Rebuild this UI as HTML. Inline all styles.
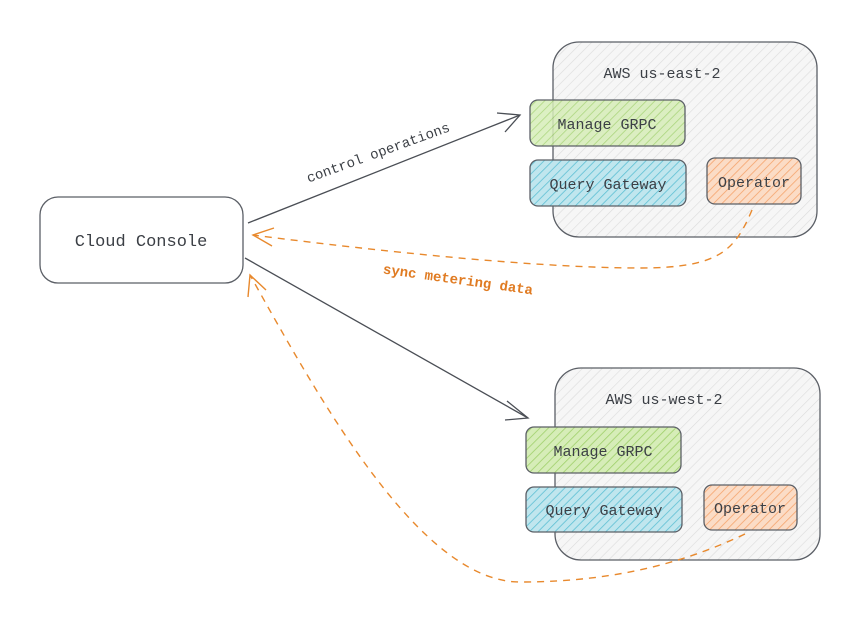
<!DOCTYPE html>
<html><head><meta charset="utf-8"><style>
html,body{margin:0;padding:0;background:#fff;}
text{font-family:"Liberation Mono",monospace;}
</style></head><body>
<svg width="861" height="624" viewBox="0 0 861 624" xmlns="http://www.w3.org/2000/svg">
<defs>
<pattern id="hg" width="7" height="7" patternUnits="userSpaceOnUse" patternTransform="rotate(45)"><rect width="7" height="7" fill="#f6f6f6"/><line x1="0" y1="0" x2="0" y2="7" stroke="#dcdcdc" stroke-width="1.2"/></pattern>
<pattern id="hgr" width="6" height="6" patternUnits="userSpaceOnUse" patternTransform="rotate(45)"><rect width="6" height="6" fill="#d6edb8"/><line x1="0" y1="0" x2="0" y2="6" stroke="#9fd06a" stroke-width="1.6"/></pattern>
<pattern id="hb" width="6" height="6" patternUnits="userSpaceOnUse" patternTransform="rotate(45)"><rect width="6" height="6" fill="#c0e6ee"/><line x1="0" y1="0" x2="0" y2="6" stroke="#5fc0d4" stroke-width="1.6"/></pattern>
<pattern id="ho" width="6" height="6" patternUnits="userSpaceOnUse" patternTransform="rotate(45)"><rect width="6" height="6" fill="#fbdcc6"/><line x1="0" y1="0" x2="0" y2="6" stroke="#f5a36b" stroke-width="1.6"/></pattern>
</defs>
<g stroke="#5b5f66" stroke-width="1.3">
<rect x="553" y="42" width="264" height="195" rx="26" fill="url(#hg)"/>
<rect x="555" y="368" width="265" height="192" rx="26" fill="url(#hg)"/>
<rect x="40" y="197" width="203" height="86" rx="18" fill="#fff"/>
<rect x="530" y="100" width="155" height="46" rx="8" fill="url(#hgr)" fill-opacity="0.85"/>
<rect x="530" y="160" width="156" height="46" rx="8" fill="url(#hb)"/>
<rect x="707" y="158" width="94" height="46" rx="8" fill="url(#ho)"/>
<rect x="526" y="427" width="155" height="46" rx="8" fill="url(#hgr)"/>
<rect x="526" y="487" width="156" height="45" rx="8" fill="url(#hb)"/>
<rect x="704" y="485" width="93" height="45" rx="8" fill="url(#ho)"/>
</g>
<g fill="#3b3f45" font-size="15" text-anchor="middle">
<text x="662" y="78">AWS us-east-2</text>
<text x="664" y="404">AWS us-west-2</text>
<text x="607" y="129">Manage GRPC</text>
<text x="608" y="189">Query Gateway</text>
<text x="754" y="187">Operator</text>
<text x="603" y="456">Manage GRPC</text>
<text x="604" y="515">Query Gateway</text>
<text x="750" y="513">Operator</text>
<text x="141" y="246" font-family="Liberation Sans,sans-serif" font-size="17">Cloud Console</text>
</g>
<g fill="none" stroke="#4a4e55" stroke-width="1.3">
<path d="M248 223 L520 115"/>
<path d="M497 113 L520 115 L505 132"/>
<path d="M245 258 L528 418"/>
<path d="M507 401 L528 418 L505 420"/>
</g>
<g fill="none" stroke="#e8892d" stroke-width="1.4">
<path d="M752 210 C735 250 720 268 640 268 C520 268 330 245 253 235" stroke-dasharray="7 6"/>
<path d="M274 228 L253 235 L272 246"/>
<path d="M745 534 C690 560 620 582 520 582 C420 582 320 400 250 275" stroke-dasharray="7 6"/>
<path d="M248 297 L250 275 L266 290"/>
</g>
<text x="378" y="157" font-size="14" fill="#3b3f45" text-anchor="middle" transform="rotate(-20 378 152)">control operations</text>
<text x="458" y="284" font-size="14" fill="#e07b22" font-weight="bold" text-anchor="middle" transform="rotate(8 458 280)">sync metering data</text>
</svg>
</body></html>
